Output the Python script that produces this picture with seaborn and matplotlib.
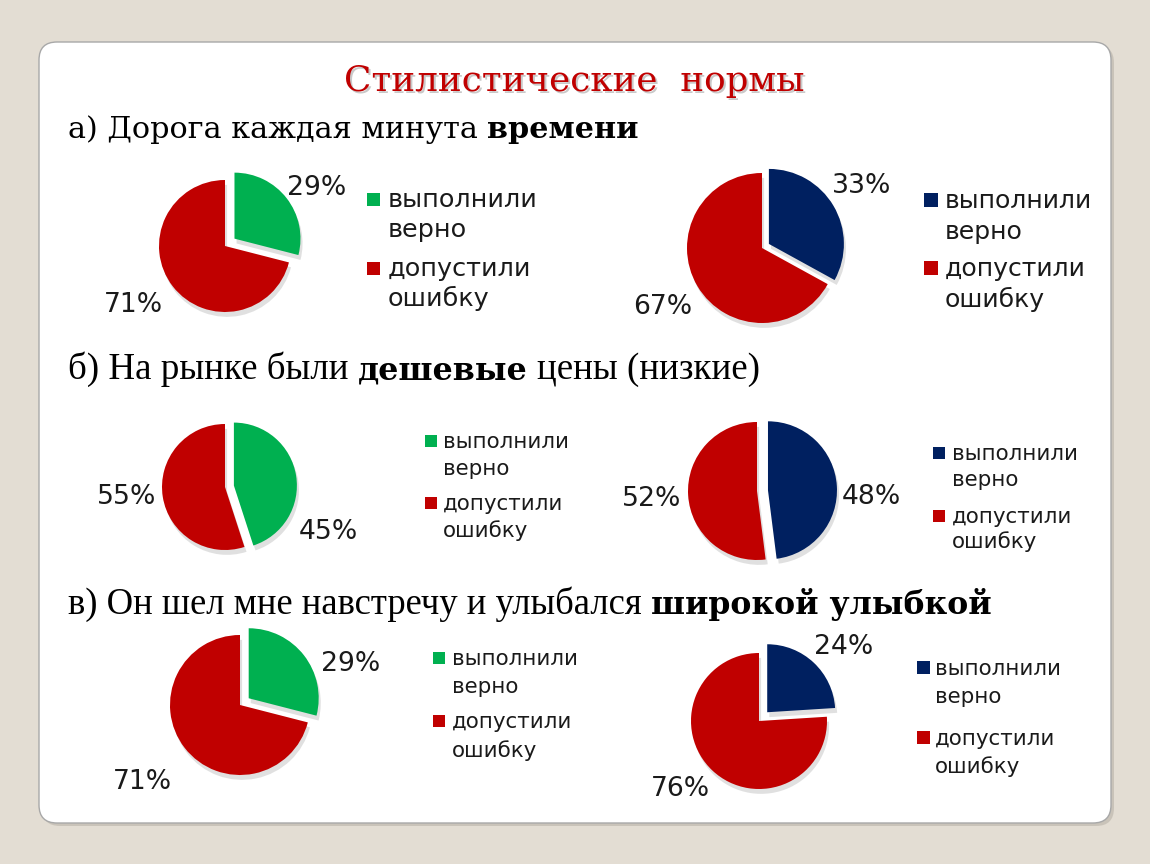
import matplotlib
matplotlib.use("Agg")
import matplotlib.pyplot as plt
import seaborn as sns
from matplotlib.patches import FancyBboxPatch, Rectangle

sns.set_theme(style="white")
plt.rcParams['font.family'] = ['DejaVu Sans']

# ---------------- data ----------------
categories = ["выполнили\nверно", "допустили\nошибку"]
vals_a_left = [29, 71]
vals_a_right = [33, 67]
vals_b_left = [45, 55]
vals_b_right = [48, 52]
vals_c_left = [29, 71]
vals_c_right = [24, 76]

title = "Стилистические  нормы"
heading_a = [("а) Дорога каждая минута", False), ("времени", True)]
heading_b = [("б) На рынке были", False), ("дешевые", True), ("цены (низкие)", False)]
heading_c = [("в) Он шел мне навстречу и улыбался", False), ("широкой улыбкой", True)]

GREEN = "#00b050"
RED = "#c00000"
NAVY = "#002060"

# ---------------- figure ----------------
W, H = 1150, 864
fig = plt.figure(figsize=(W / 100, H / 100), dpi=100)
fig.patch.set_facecolor("#e3ddd3")
ax = fig.add_axes([0, 0, 1, 1])
renderer = fig.canvas.get_renderer()


def Y(y):
    return H - y


# card with shadow
ax.add_patch(FancyBboxPatch((42, Y(826)), 1072, 781,
                            boxstyle="round,pad=0,rounding_size=18",
                            fc="#b5afa5", ec="none", alpha=0.55, zorder=0))
ax.add_patch(FancyBboxPatch((39, Y(823)), 1072, 781,
                            boxstyle="round,pad=0,rounding_size=18",
                            fc="white", ec="#a8a8a8", lw=1.0, zorder=0.1))


def text_width(s, size, **kw):
    t = ax.text(0, 0, s, fontsize=size, **kw)
    w = t.get_window_extent(renderer).width
    t.remove()
    return w


def fit_size(s, target_w, base=20, **kw):
    return base * target_w / text_width(s, base, **kw)


# ---------------- title ----------------
tkw = dict(family="DejaVu Serif")
ts = fit_size(title, 460, **tkw)
ax.text(574 + 2, Y(91) - 2, title, fontsize=ts, color="#888888", alpha=0.45,
        ha="center", va="baseline", zorder=2, **tkw)
ax.text(574, Y(91), title, fontsize=ts, color=RED, ha="center",
        va="baseline", zorder=3, **tkw)


# ---------------- headings ----------------
def rich_line(pieces, x0, base_y, target_w, normal_family, bold_family,
              bold_scale=1.0):
    def kw(bold):
        return dict(family=bold_family if bold else normal_family,
                    weight="bold" if bold else "normal")

    def sz_of(sz, bold):
        return sz * (bold_scale if bold else 1.0)

    def measure(sz):
        ws = [text_width(s, sz_of(sz, b), **kw(b)) for s, b in pieces]
        sp = text_width("a a", sz, **kw(False)) - text_width("aa", sz, **kw(False))
        return ws, sp

    sz = 20
    ws, sp = measure(sz)
    sz = sz * target_w / (sum(ws) + sp * (len(pieces) - 1))
    ws, sp = measure(sz)
    x = x0
    for (s, b), w in zip(pieces, ws):
        ax.text(x, Y(base_y), s, fontsize=sz_of(sz, b), color="black",
                ha="left", va="baseline", zorder=3, **kw(b))
        x += w + sp


rich_line(heading_a, 68, 138, 572, "DejaVu Serif", "DejaVu Serif")
rich_line(heading_b, 68, 379, 694, "Liberation Serif", "DejaVu Serif", 0.86)
rich_line(heading_c, 68, 614, 924, "Liberation Serif", "DejaVu Serif", 0.86)

# ---------------- pies ----------------
panels = [
    dict(vals=vals_a_left, color=GREEN, center=(225, 246), r=66, explode=12,
         pct=[(317, 188), (133, 305)], sq_x=367, tx=388,
         bases=[207, 237, 276, 306], sq=13, leg_w=149),
    dict(vals=vals_a_right, color=NAVY, center=(762, 248), r=75, explode=8,
         pct=[(862, 186), (663, 307)], sq_x=924, tx=945,
         bases=[208, 239, 276, 307], sq=14, leg_w=147),
    dict(vals=vals_b_left, color=GREEN, center=(225, 487), r=63, explode=9,
         pct=[(328, 532), (127, 497)], sq_x=425, tx=443,
         bases=[448, 475, 510, 537], sq=12, leg_w=125),
    dict(vals=vals_b_right, color=NAVY, center=(757, 491), r=69, explode=11,
         pct=[(871, 497), (652, 499)], sq_x=933, tx=952,
         bases=[460, 486, 523, 548], sq=12, leg_w=125),
    dict(vals=vals_c_left, color=GREEN, center=(240, 705), r=70, explode=11,
         pct=[(351, 664), (142, 782)], sq_x=433, tx=452,
         bases=[665, 693, 728, 757], sq=12, leg_w=125),
    dict(vals=vals_c_right, color=NAVY, center=(759, 721), r=68, explode=12,
         pct=[(844, 647), (680, 789)], sq_x=917, tx=935,
         bases=[675, 703, 745, 773], sq=13, leg_w=125),
]

pct_size = fit_size("29%", 59)

for p in panels:
    cx, cy = p["center"]
    ax.pie(p["vals"], colors=[p["color"], RED], startangle=90,
           counterclock=False, center=(cx, Y(cy)), radius=p["r"],
           explode=[p["explode"], 0], wedgeprops=dict(linewidth=0),
           shadow={"ox": 1.5, "oy": -3.5, "facecolor": "#9a9a9a",
                   "edgecolor": "none", "alpha": 0.3},
           frame=False)
    for v, (px, py) in zip(p["vals"], p["pct"]):
        ax.text(px, Y(py), f"{v}%", fontsize=pct_size, color="#1a1a1a",
                ha="center", va="center", zorder=3)
    lsz = fit_size(categories[0].split("\n")[0], p["leg_w"])
    colors = [p["color"], RED]
    for i, (cat, col) in enumerate(zip(categories, colors)):
        lines = cat.split("\n")
        b0 = p["bases"][2 * i]
        ax.add_patch(Rectangle((p["sq_x"], Y(b0) + 1), p["sq"], p["sq"],
                               fc=col, ec="none", zorder=3))
        for j, line in enumerate(lines):
            ax.text(p["tx"], Y(p["bases"][2 * i + j]), line, fontsize=lsz,
                    color="#1a1a1a", ha="left", va="baseline", zorder=3)

ax.set_xlim(0, W)
ax.set_ylim(0, H)
ax.set_axis_off()

fig.savefig("out.png", dpi=100, facecolor=fig.get_facecolor())
